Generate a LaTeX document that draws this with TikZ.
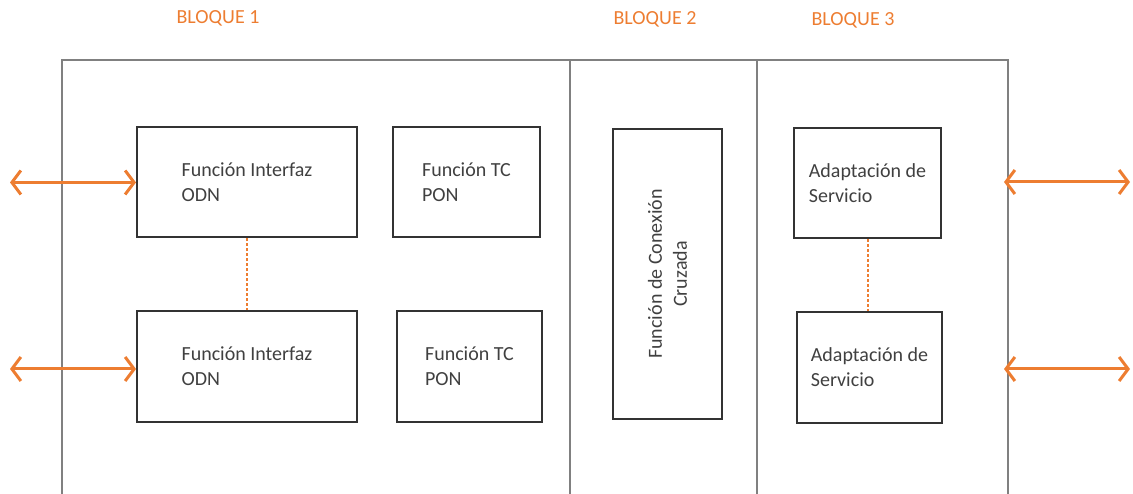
\documentclass[tikz,border=0pt]{standalone}
\usepackage{fontspec}
\setmainfont{Carlito}
\usepackage{tikz}
\usetikzlibrary{arrows.meta, positioning}
\usepackage{xcolor}
\definecolor{naranja}{RGB}{237,125,49}
\definecolor{gristexto}{RGB}{64,64,64}
\definecolor{grisborde}{RGB}{51,51,51}
\definecolor{grismarco}{RGB}{128,128,128}

\begin{document}
\begin{tikzpicture}[x=1pt, y=-1pt,
    bloque/.style={draw=grisborde, line width=2pt, align=left, text=gristexto, minimum width=220pt, minimum height=110pt, font=\fontsize{20}{25}\selectfont},
    marco/.style={draw=grismarco, line width=2pt},
    titulo/.style={text=naranja, font=\fontsize{20}{24}\selectfont},
    enlace/.style={naranja, line width=2pt, dash pattern=on 3pt off 2pt},
    arrow/.style={naranja, line width=3pt, {Straight Barb[length=9pt,width=24pt]}-{Straight Barb[length=9pt,width=24pt]}}
]
\useasboundingbox (0,0) rectangle (1133,494);

\draw[marco] (62,494) |- (1008,60) -- (1008,494);
\draw[marco] (570,60) -- (570,494);
\draw[marco] (757,60) -- (757,494);

\node[titulo] (b1) at (218,18) {BLOQUE 1};
\node[titulo] (b2) at (655,19) {BLOQUE 2};
\node[titulo] (b3) at (853,20) {BLOQUE 3};

\node[bloque] (odn1) at (247,182.5) {Función Interfaz\\ODN};
\node[bloque, minimum width=147pt, right=34pt of odn1] (tc1) {Función TC\\PON};
\node[bloque, below=72pt of odn1] (odn2) {Función Interfaz\\ODN};
\node[bloque, minimum width=145pt, below=72pt of tc1, xshift=3pt] (tc2) {Función TC\\PON};

\node[bloque, rotate=90, align=center, minimum width=290pt, minimum height=109pt] (cruz) at (667.5,274) {Función de Conexión\\Cruzada};

\node[bloque, minimum width=147pt] (ad1) at (867.5,183.5) {Adaptación de\\Servicio};
\node[bloque, minimum width=145pt, below=72pt of ad1, xshift=2pt] (ad2) {Adaptación de\\Servicio};

\draw[enlace] (odn1) -- (odn2);
\draw[enlace] (ad1.south) -- (ad1.south |- ad2.north);

\coordinate (izq1) at (10,182.5);
\coordinate (izq2) at (10,369);
\coordinate (der1a) at (1004,182);
\coordinate (der1b) at (1130,182);
\coordinate (der2a) at (1004,369);
\coordinate (der2b) at (1130,369);

\draw[arrow] (izq1) -- (odn1.west);
\draw[arrow] (izq2) -- (odn2.west |- izq2);
\draw[arrow] (der1a) -- (der1b);
\draw[arrow] (der2a) -- (der2b);

\end{tikzpicture}
\end{document}
